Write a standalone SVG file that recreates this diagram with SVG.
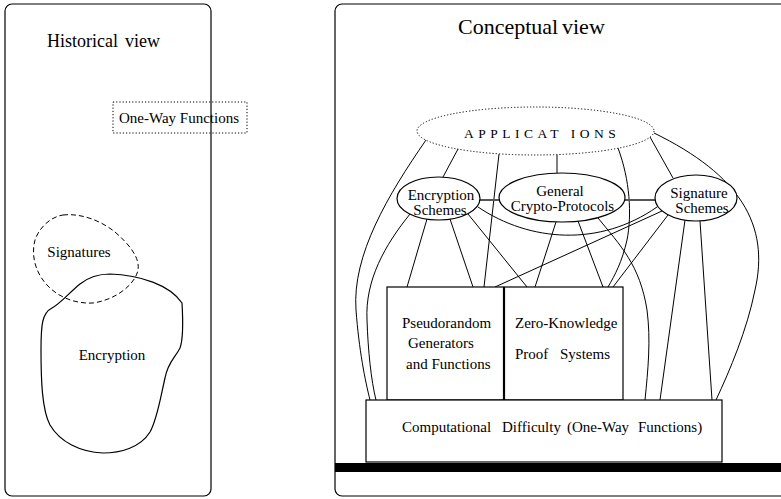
<svg xmlns="http://www.w3.org/2000/svg" width="781" height="499" viewBox="0 0 781 499">
<style>
text{font-family:"Liberation Serif","Times New Roman",serif;fill:#000}
.t15{font-size:15px}
.ln{fill:none;stroke:#000;stroke-width:1}
.box{fill:#fff;stroke:#000;stroke-width:1.2}
.panel{fill:none;stroke:#000;stroke-width:1.2}
.link{fill:none;stroke:#555;stroke-width:2}
</style>
<rect width="781" height="499" fill="#fff"/>

<!-- Left panel -->
<g id="historical-title"><text x="47" y="47" font-size="18">Historical<tspan x="125">view</tspan></text></g>
<g id="one-way-functions">
<rect x="113" y="102" width="134" height="31" fill="none" stroke="#000" stroke-width="1" stroke-dasharray="1.2,2"/>
<text class="t15" x="119" y="123">One-Way Functions</text>
</g>
<g id="encryption-blob">
<path d="M52,308 C60,304 70,292 80,284 C90,276 100,274 110,274 C140,275 170,285 182,303 C183,320 183,340 180,348 C175,358 168,362 165,378 C160,400 157,420 150,432 C140,448 120,453 103,453 C80,452 60,442 50,425 C42,410 41,380 41,350 C41,325 42,313 52,308 Z" fill="none" stroke="#000" stroke-width="1.2"/>
<text class="t15" x="112" y="360" text-anchor="middle">Encryption</text>
</g>
<g id="signatures-blob">
<path d="M63,215 C80,213 100,220 115,232 C130,245 140,258 138,270 C135,285 115,300 93,303 C75,304 58,297 47,285 C35,272 31,255 35,240 C39,228 50,217 63,215 Z" fill="none" stroke="#000" stroke-width="1" stroke-dasharray="5,3"/>
<text class="t15" x="79" y="257" text-anchor="middle">Signatures</text>
</g>
<g id="historical-panel"><rect class="panel" x="5" y="4" width="206" height="492" rx="7"/></g>

<!-- Right panel -->
<g id="conceptual-panel"><rect class="panel" x="335" y="4" width="470" height="492" rx="7"/></g>
<g id="conceptual-title"><text x="458" y="34" font-size="22">Conceptual<tspan x="562">view</tspan></text></g>

<g id="connectors">
<path class="ln" d="M426,140 C388,195 352,255 356,310 C359,350 365,380 370,400"/>
<path class="ln" d="M458,149 L443,177"/>
<path class="ln" d="M499,154 L484,287"/>
<path class="ln" d="M557,155 L557,173"/>
<path class="ln" d="M618,148 C630,180 632,215 627,240 C622,262 615,275 608,287"/>
<path class="ln" d="M650,137 L673,178"/>
<path class="ln" d="M654,133 C740,175 770,225 755,290 C747,330 730,370 716,400"/>
<path class="ln" d="M410,214 C385,245 365,280 367,320 C368,350 371,380 376,400"/>
<path class="ln" d="M427,219 L407,287"/>
<path class="ln" d="M450,219 L473,287"/>
<path class="ln" d="M468,214 L527,287"/>
<path class="ln" d="M478,207 C530,242 600,247 657,207"/>
<path class="link" d="M480,200 L499,200"/>
<path class="link" d="M625,200 L655,200"/>
<path class="ln" d="M556,222 L535,287"/>
<path class="ln" d="M578,221 L603,287"/>
<path class="ln" d="M598,218 C620,245 640,265 647,310 C651,340 648,370 645,400"/>
<path class="ln" d="M662,211 L495,287"/>
<path class="ln" d="M668,215 L613,287"/>
<path class="ln" d="M685,220 L660,400"/>
<path class="ln" d="M700,221 L712,400"/>
</g>

<g id="applications">
<ellipse cx="535.5" cy="131" rx="118.5" ry="24" fill="#fff" stroke="#000" stroke-width="1" stroke-dasharray="1.2,2"/>
<text x="464" y="138" font-size="13.5" letter-spacing="4.5">APPLICAT IONS</text>
</g>
<g id="encryption-schemes">
<ellipse cx="438.5" cy="198.5" rx="41.5" ry="21.5" class="box"/>
<text class="t15" x="441" y="200" text-anchor="middle">Encryption</text>
<text class="t15" x="440" y="215" text-anchor="middle">Schemes</text>
</g>
<g id="general-crypto-protocols">
<ellipse cx="562" cy="197.5" rx="63" ry="24.5" class="box"/>
<text class="t15" x="560" y="196" text-anchor="middle">General</text>
<text class="t15" x="562.5" y="211" text-anchor="middle">Crypto-Protocols</text>
</g>
<g id="signature-schemes">
<ellipse cx="696" cy="198" rx="41" ry="23" class="box"/>
<text class="t15" x="699" y="198" text-anchor="middle">Signature</text>
<text class="t15" x="702" y="213" text-anchor="middle">Schemes</text>
</g>
<g id="pseudorandom">
<rect class="box" x="387" y="287" width="116.5" height="113"/>
<text class="t15" x="402" y="328">Pseudorandom</text>
<text class="t15" x="408" y="348">Generators</text>
<text class="t15" x="406" y="369">and Functions</text>
</g>
<g id="zero-knowledge">
<rect class="box" x="504.5" y="287" width="118.5" height="113"/>
<text class="t15" x="515" y="328">Zero-Knowledge</text>
<text class="t15" x="515" y="359">Proof<tspan x="560">Systems</tspan></text>
</g>
<g id="computational-difficulty">
<rect class="box" x="366" y="400" width="356" height="62"/>
<text class="t15" x="402" y="432">Computational<tspan x="502">Difficulty</tspan><tspan x="567">(One-Way</tspan><tspan x="638">Functions)</tspan></text>
</g>
<g id="base-bar"><rect x="335" y="463" width="446" height="9" fill="#000"/></g>
</svg>
